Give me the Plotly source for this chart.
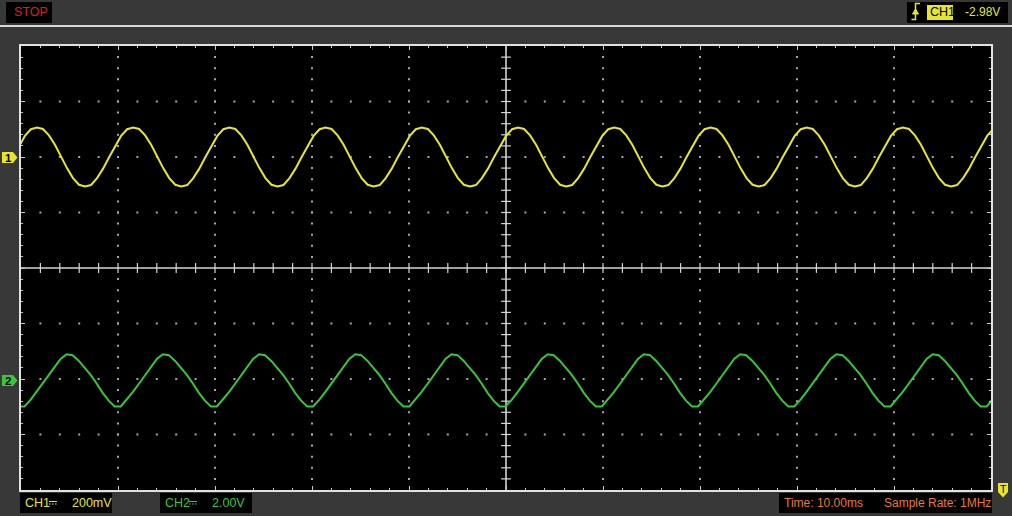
import plotly.graph_objects as go

time_div_ms = 10.0          # Time: 10.00ms / div
n_hdiv = 10
n_vdiv = 8
period_ms = 9.92            # measured signal period
ch1_peak_ms = 1.24          # time of a CH1 crest
ch2_peak_ms = 4.30          # time of a CH2 crest
ch1_scale_mv = 200.0        # CH1 200mV / div
ch2_scale_v = 2.0           # CH2 2.00V / div
ch1_offset_div = 2.0
ch2_offset_div = -2.0
# one period of each channel, 16 samples starting at the crest
ch1_cycle_mv = [106, 101, 78, 44, 2, -40, -76, -100, -106, -101, -76, -42, -1, 40, 76, 100]
ch2_cycle_v = [0.89, 0.86, 0.66, 0.41, 0.15, -0.16, -0.50, -0.78, -0.99, -0.99, -0.75, -0.47, -0.18, 0.13, 0.43, 0.72]

status_text = "STOP"
trig_src = "CH1"
trig_level = "-2.98V"
ch1_label, ch1_scale_label = "CH1", "200mV"
ch2_label, ch2_scale_label = "CH2", "2.00V"
time_label = "Time: 10.00ms"
rate_label = "Sample Rate: 1MHz"

# colours
BG = "#383838"
YEL = "#e6e62e"
GRN = "#36c836"
ORG = "#e87a2c"
RED = "#d82020"
GRID = "#a8a8a8"
AXC = "#d4d4d4"

# ---------------- build traces ----------------
half_ms = time_div_ms * n_hdiv / 2


def tile(cycle, peak_ms):
    n = len(cycle)
    ts, vs = [], []
    c0 = -int((peak_ms + half_ms) / period_ms) - 2
    for c in range(c0, c0 + 16):
        for i, v in enumerate(cycle):
            t = peak_ms + (c + i / n) * period_ms
            if -half_ms - 3 <= t <= half_ms + 3:
                ts.append(t)
                vs.append(v)
    return ts, vs


t1, v1 = tile(ch1_cycle_mv, ch1_peak_ms)
t2, v2 = tile(ch2_cycle_v, ch2_peak_ms)
y1 = [ch1_offset_div + v / ch1_scale_mv for v in v1]
y2 = [ch2_offset_div + v / ch2_scale_v for v in v2]

fig = go.Figure()

# grid dots
gx, gy = [], []
minor_t = time_div_ms / 5
for j in range(-n_vdiv // 2 + 1, n_vdiv // 2):
    if j == 0:
        continue
    for k in range(1, n_hdiv * 5):
        gx.append(-half_ms + k * minor_t)
        gy.append(j)
for i in range(-n_hdiv // 2 + 1, n_hdiv // 2):
    if i == 0:
        continue
    for k in range(1, n_vdiv * 5):
        gx.append(i * time_div_ms)
        gy.append(-n_vdiv / 2 + k * 0.2)
fig.add_trace(go.Scatter(x=gx, y=gy, mode="markers", hoverinfo="skip",
                         marker=dict(symbol="square", size=2, color=GRID, line=dict(width=0))))

# centre cross tick marks
cx = [-half_ms + k * minor_t for k in range(1, n_hdiv * 5)]
fig.add_trace(go.Scatter(x=cx, y=[0] * len(cx), mode="markers", hoverinfo="skip",
                         marker=dict(symbol="line-ns", size=7, line=dict(width=1.2, color=AXC))))
cy = [-n_vdiv / 2 + k * 0.2 for k in range(1, n_vdiv * 5)]
fig.add_trace(go.Scatter(x=[0] * len(cy), y=cy, mode="markers", hoverinfo="skip",
                         marker=dict(symbol="line-ew", size=7, line=dict(width=1.2, color=AXC))))

# waveforms
fig.add_trace(go.Scatter(x=t1, y=y1, mode="lines", hoverinfo="skip",
                         line=dict(color=YEL, width=2)))
fig.add_trace(go.Scatter(x=t2, y=y2, mode="lines", hoverinfo="skip",
                         line=dict(color=GRN, width=2)))

# ---------------- pixel helpers for decorations ----------------
L, R, T, B = 21, 991, 46, 490


def px(x):
    return (x - L) / (R - L)


def py(y):
    return (B - y) / (B - T)


shapes = []
# centre cross
shapes.append(dict(type="line", xref="x", yref="y", x0=-half_ms, x1=half_ms, y0=0, y1=0,
                   line=dict(color=AXC, width=1.6), layer="below"))
shapes.append(dict(type="line", xref="x", yref="y", x0=0, x1=0, y0=-n_vdiv / 2, y1=n_vdiv / 2,
                   line=dict(color=AXC, width=1.6), layer="below"))


def rect(x0, y0, x1, y1, fill):
    return dict(type="rect", xref="paper", yref="paper", x0=px(x0), x1=px(x1),
                y0=py(y1), y1=py(y0), fillcolor=fill, line=dict(width=0), layer="above")


def path(points, fill=None, color=None, width=0):
    d = "M" + " L".join(f"{px(a):.5f},{py(b):.5f}" for a, b in points)
    if fill:
        d += " Z"
    s = dict(type="path", xref="paper", yref="paper", path=d, layer="above",
             line=dict(width=width, color=color or "rgba(0,0,0,0)"))
    if fill:
        s["fillcolor"] = fill
    return s


# top separator line
shapes.append(dict(type="line", xref="paper", yref="paper", x0=px(0), x1=px(1012),
                   y0=py(26), y1=py(26), line=dict(color="#d8d8d8", width=2)))
# boxes
shapes.append(rect(6, 2, 52, 23, "black"))
shapes.append(rect(907, 2, 1008, 23, "black"))
shapes.append(rect(927, 5, 953, 20, YEL))
shapes.append(rect(20, 493, 112, 513, "black"))
shapes.append(rect(160, 493, 252, 513, "black"))
shapes.append(rect(779, 493, 992, 513, "black"))
# trigger edge icon
shapes.append(path([(911.5, 19.5), (915.5, 19.5), (915.5, 3.5), (920, 3.5)], color=YEL, width=1.5))
shapes.append(path([(912.5, 14), (915.5, 9), (918.5, 14)], fill=YEL, color=YEL, width=1))
# DC coupling symbols
for x0, col in ((49, YEL), (189, GRN)):
    shapes.append(dict(type="line", xref="paper", yref="paper", x0=px(x0), x1=px(x0 + 8),
                       y0=py(501.5), y1=py(501.5), line=dict(color=col, width=1)))
    for k in range(3):
        shapes.append(dict(type="line", xref="paper", yref="paper", x0=px(x0 + k * 3), x1=px(x0 + k * 3 + 1.6),
                           y0=py(504), y1=py(504), line=dict(color=col, width=1)))
# channel ground markers
shapes.append(path([(2, 152), (13, 152), (17.5, 157.5), (13, 163), (2, 163)], fill=YEL))
shapes.append(path([(2, 375), (13, 375), (17.5, 380.5), (13, 386), (2, 386)], fill=GRN))
# trigger position marker
shapes.append(path([(998, 483), (1008, 483), (1008, 492), (1003, 497.5), (998, 492)], fill=YEL))

FONT = "Liberation Sans, Arial, sans-serif"


def text(x, y, s, color, size=12, anchor="left", bold=False):
    return dict(x=px(x), y=py(y), xref="paper", yref="paper", text=f"<b>{s}</b>" if bold else s,
                showarrow=False, xanchor=anchor, yanchor="middle",
                font=dict(family=FONT, size=size, color=color))


annotations = [
    text(11.5, 12.5, status_text, RED, size=12.5),
    text(927.5, 12.5, trig_src, "black", size=12.5),
    text(962.5, 12.5, trig_level, YEL),
    text(22.5, 503, ch1_label, YEL, size=12.5),
    text(69.5, 503, ch1_scale_label, YEL, size=12.5),
    text(162.5, 503, ch2_label, GRN, size=12.5),
    text(209.5, 503, ch2_scale_label, GRN, size=12.5),
    text(781.5, 503, time_label, ORG, size=12),
    text(881.5, 503, rate_label, ORG, size=12),
    text(8, 157.5, "1", "black", size=11.5, anchor="center", bold=True),
    text(8, 380.5, "2", "black", size=11.5, anchor="center", bold=True),
    text(1003, 488.5, "T", "black", size=10.5, anchor="center"),
]

axis_common = dict(showgrid=False, zeroline=False, showticklabels=False, fixedrange=True,
                   showline=True, linecolor="#e2e2e2", linewidth=2, mirror="ticks",
                   ticks="inside", ticklen=4, tickwidth=1, tickcolor="#c8c8c8")

fig.update_layout(
    width=1012, height=516, autosize=False,
    margin=dict(l=L, r=1012 - R, t=T, b=516 - B, pad=0),
    paper_bgcolor=BG, plot_bgcolor="black",
    showlegend=False,
    xaxis=dict(range=[-half_ms, half_ms], tick0=0, dtick=time_div_ms,
               minor=dict(ticks="inside", ticklen=2, dtick=time_div_ms / 5, tickcolor="#c8c8c8"),
               **axis_common),
    yaxis=dict(range=[-n_vdiv / 2, n_vdiv / 2], tick0=0, dtick=1,
               minor=dict(ticks="inside", ticklen=2, dtick=0.2, tickcolor="#c8c8c8"),
               **axis_common),
    shapes=shapes,
    annotations=annotations,
    font=dict(family=FONT),
)

fig.write_html("out.html", config={"displayModeBar": False},
               post_script="document.body.style.margin='0';document.body.style.overflow='hidden';")
